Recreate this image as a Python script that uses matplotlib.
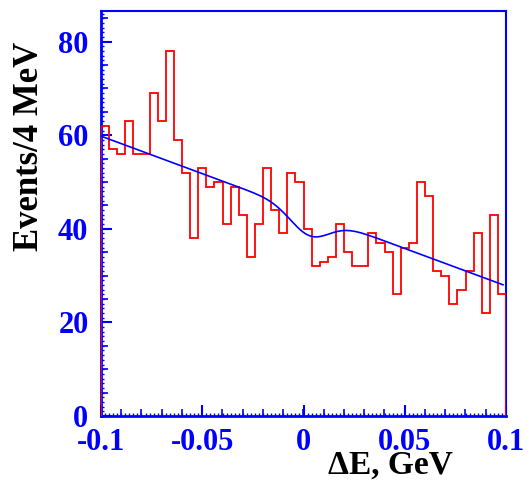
import numpy as np
import matplotlib
matplotlib.use("Agg")
import matplotlib.pyplot as plt
from matplotlib.ticker import MultipleLocator

# ---- data ----
x_min, x_max = -0.1, 0.1
counts = [62, 57, 56, 63, 56, 56, 69, 63, 78, 59,
          52, 38, 53, 49, 50, 41, 49, 43, 34, 41,
          53, 44, 39, 52, 50, 40, 32, 33, 34, 41,
          35, 32, 32, 39, 37, 35, 26, 36, 37, 50,
          47, 31, 30, 24, 27, 31, 39, 22, 43, 26]
# fit model parameters: linear background with a smooth dip
fit_a, fit_b = 43.8, -160.0
dip_amp, dip_mu, dip_sigma = 4.8, 0.003, 0.0095
fit_range = (-0.1, 0.0985)

y_max = 86.6
x_ticks = [-0.1, -0.05, 0, 0.05, 0.1]
x_ticklabels = ["-0.1", "-0.05", "0", "0.05", "0.1"]
y_ticks = [0, 20, 40, 60, 80]
y_ticklabels = ["0", "20", "40", "60", "80"]

BLUE = (0, 0, 1)
RED = (1, 0, 0)

plt.rcParams['font.family'] = ['Liberation Serif', 'DejaVu Serif']
plt.rcParams['font.weight'] = 'bold'

fig = plt.figure(figsize=(5.26, 4.83), dpi=100)
ax = fig.add_axes([101 / 526, 67 / 483, 405 / 526, (416 - 10.7) / 483])

edges = np.linspace(x_min, x_max, len(counts) + 1)
ax.stairs(counts, edges, baseline=0, color=RED, linewidth=1.3, zorder=3)

xf = np.linspace(fit_range[0], fit_range[1], 400)
yf = fit_a + fit_b * xf - dip_amp * np.exp(-0.5 * ((xf - dip_mu) / dip_sigma) ** 2)
ax.plot(xf, yf, color=BLUE, linewidth=1.2, zorder=4)

ax.set_xlim(x_min, x_max)
ax.set_ylim(0, y_max)

for s in ax.spines.values():
    s.set_color(BLUE)
    s.set_linewidth(1.5)
ax.spines['left'].set_linewidth(2.0)
ax.spines['bottom'].set_linewidth(2.0)

ax.set_xticks(x_ticks)
ax.set_xticklabels(x_ticklabels)
ax.set_yticks(y_ticks)
ax.set_yticklabels(y_ticklabels)
ax.xaxis.set_minor_locator(MultipleLocator(0.002))
ax.yaxis.set_minor_locator(MultipleLocator(1))
ax.tick_params(axis='both', which='major', direction='in', length=8, width=1.5,
               color=BLUE, labelcolor=BLUE, labelsize=22)
ax.tick_params(axis='both', which='minor', direction='in', length=2.5, width=1.0,
               color=BLUE)
ax.tick_params(axis='x', which='major', pad=9)
ax.tick_params(axis='y', which='major', pad=9)
for lab in ax.get_xticklabels() + ax.get_yticklabels():
    lab.set_fontweight('bold')

# medium ticks
secx = ax.secondary_xaxis('bottom')
secx.set_xticks(np.arange(-0.1, 0.1001, 0.01))
secx.tick_params(direction='in', length=5, width=1.2, color=BLUE, labelbottom=False)
secx.spines['bottom'].set_visible(False)
secy = ax.secondary_yaxis('left')
secy.set_yticks(np.arange(0, 86, 5))
secy.tick_params(direction='in', length=5, width=1.2, color=BLUE, labelleft=False)
secy.spines['left'].set_visible(False)

fig.text(453 / 526, 1 - 465 / 483, "\u0394E, GeV", ha='right', va='center',
         fontsize=24, fontweight='bold', color='black')
fig.text(30 / 526, 1 - 42 / 483, "Events/4 MeV", ha='center', va='top',
         rotation=90, fontsize=25, fontweight='bold', color='black')

fig.savefig("out.png", dpi=100)
